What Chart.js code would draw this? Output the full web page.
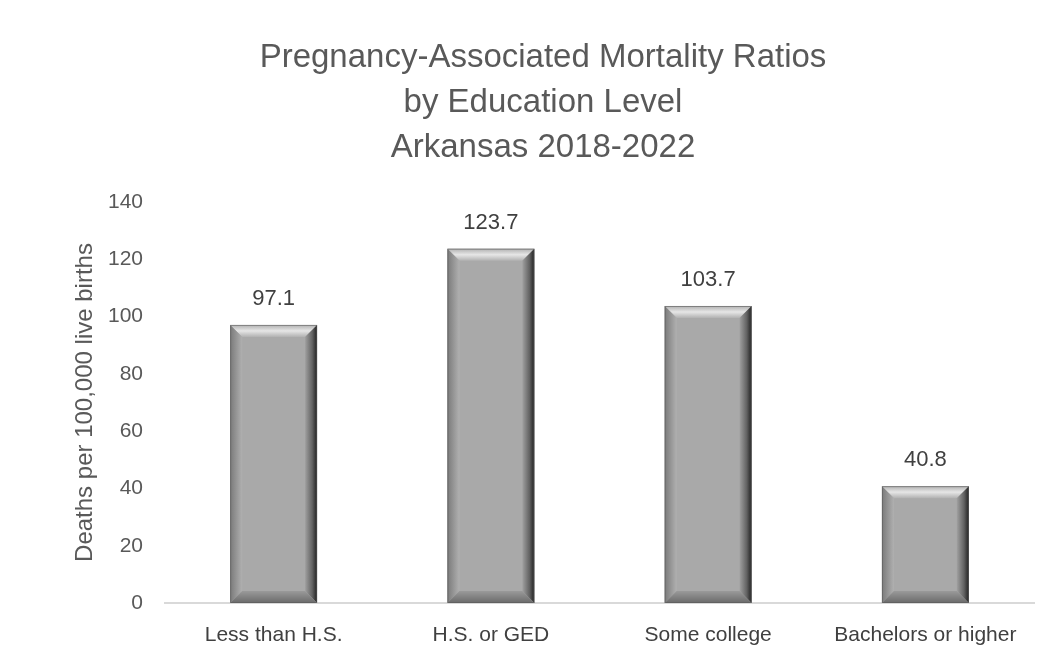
<!DOCTYPE html>
<html><head><meta charset="utf-8">
<script src="https://cdn.jsdelivr.net/npm/chart.js@4"></script>
<style>html,body{margin:0;padding:0;background:#fff}#wrap{width:1064px;height:648px}</style>
</head><body><div id="wrap"><canvas id="c"></canvas></div>
<script>
const categories = ["Less than H.S.", "H.S. or GED", "Some college", "Bachelors or higher"];
const values = [97.1, 123.7, 103.7, 40.8];
const valueLabels = ["97.1", "123.7", "103.7", "40.8"];
const titleLines = ["Pregnancy-Associated Mortality Ratios", "by Education Level", "Arkansas 2018-2022"];
const yAxisTitle = "Deaths per 100,000 live births";

const FONT = "'Liberation Sans', Arial, sans-serif";

const bevel = {
  id: 'bevel',
  afterDatasetsDraw(chart) {
    const ctx = chart.ctx;
    const meta = chart.getDatasetMeta(0);
    meta.data.forEach((bar, i) => {
      const p = bar.getProps(['x','y','base','width'], true);
      const l = p.x - p.width/2, r = p.x + p.width/2, t = p.y, b = p.base;
      const s = Math.min(12, (b - t)/2);
      ctx.save();
      // top
      let g = ctx.createLinearGradient(0, t, 0, t+s);
      g.addColorStop(0, '#b0b0b0'); g.addColorStop(0.5, '#e6e6e6'); g.addColorStop(1, '#b2b2b2');
      ctx.fillStyle = g;
      ctx.beginPath(); ctx.moveTo(l,t); ctx.lineTo(r,t); ctx.lineTo(r-s,t+s); ctx.lineTo(l+s,t+s); ctx.closePath(); ctx.fill();
      // left
      g = ctx.createLinearGradient(l, 0, l+s, 0);
      g.addColorStop(0, '#7a7a7a'); g.addColorStop(1, '#b0b0b0');
      ctx.fillStyle = g;
      ctx.beginPath(); ctx.moveTo(l,t); ctx.lineTo(l+s,t+s); ctx.lineTo(l+s,b-s); ctx.lineTo(l,b); ctx.closePath(); ctx.fill();
      // right
      g = ctx.createLinearGradient(r-s, 0, r, 0);
      g.addColorStop(0, '#a0a0a0'); g.addColorStop(0.6, '#626262'); g.addColorStop(1, '#202020');
      ctx.fillStyle = g;
      ctx.beginPath(); ctx.moveTo(r,t); ctx.lineTo(r,b); ctx.lineTo(r-s,b-s); ctx.lineTo(r-s,t+s); ctx.closePath(); ctx.fill();
      // bottom
      g = ctx.createLinearGradient(0, b-s, 0, b);
      g.addColorStop(0, '#9a9a9a'); g.addColorStop(1, '#6a6a6a');
      ctx.fillStyle = g;
      ctx.beginPath(); ctx.moveTo(l,b); ctx.lineTo(l+s,b-s); ctx.lineTo(r-s,b-s); ctx.lineTo(r,b); ctx.closePath(); ctx.fill();
      // thin outline
      ctx.strokeStyle = 'rgba(90,90,90,0.6)'; ctx.lineWidth = 1;
      ctx.strokeRect(l + 0.5, t + 0.5, r - l - 1, b - t - 1);
      // label
      ctx.fillStyle = '#404040';
      ctx.font = '22px ' + FONT;
      ctx.textAlign = 'center'; ctx.textBaseline = 'middle';
      ctx.fillText(valueLabels[i], p.x, t - 26);
      ctx.restore();
    });
  }
};

new Chart(document.getElementById('c'), {
  type: 'bar',
  data: { labels: categories, datasets: [{ data: values, backgroundColor: '#a9a9a9', borderWidth: 0, barPercentage: 0.4, categoryPercentage: 1.0 }] },
  options: {
    responsive: true, maintainAspectRatio: false, animation: false,
    layout: { padding: { left: 52, right: 30, top: 0, bottom: 0 } },
    plugins: {
      legend: { display: false }, tooltip: { enabled: false },
      title: { display: true, text: titleLines, color: '#595959', font: { family: FONT, size: 33, weight: 'normal', lineHeight: 1.3636 }, padding: { top: 35, bottom: 32 } }
    },
    scales: {
      x: {
        afterFit(scale) { scale.height = 45; },
        grid: { display: false, drawTicks: false },
        border: { display: true, color: '#d9d9d9', width: 2 },
        ticks: { color: '#404040', font: { family: FONT, size: 21 }, padding: 20 }
      },
      y: {
        afterFit(scale) { scale.width = 113; },
        min: 0, max: 140,
        grid: { display: false, drawTicks: false },
        border: { display: false },
        ticks: { stepSize: 20, color: '#595959', font: { family: FONT, size: 21 }, padding: 22 },
        title: { display: true, text: yAxisTitle, color: '#595959', font: { family: FONT, size: 24 }, padding: { top: 19, bottom: 0 } }
      }
    }
  },
  plugins: [bevel]
});
</script>
</body></html>
